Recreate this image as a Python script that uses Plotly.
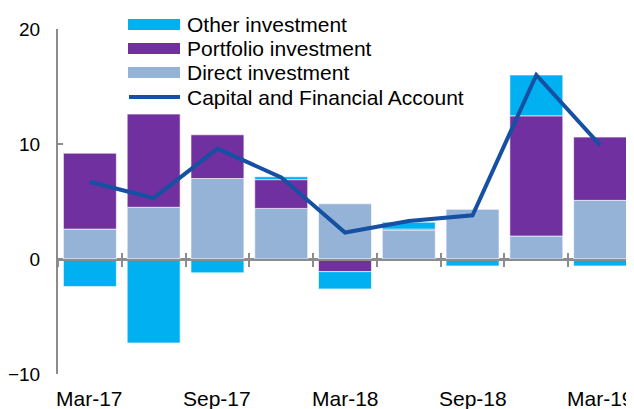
import plotly.graph_objects as go

quarters = ["Mar-17", "Jun-17", "Sep-17", "Dec-17", "Mar-18", "Jun-18", "Sep-18", "Dec-18", "Mar-19"]
tick_labels = ["Mar-17", "Sep-17", "Mar-18", "Sep-18", "Mar-19"]

direct = [2.6, 4.5, 7.0, 4.4, 4.8, 2.5, 4.35, 2.0, 5.1]
portfolio = [6.6, 8.1, 3.8, 2.5, -1.1, 0.1, 0.0, 10.45, 5.5]
other = [-2.4, -7.3, -1.2, 0.25, -1.5, 0.6, -0.6, 3.55, -0.6]
capital_account = [6.7, 5.3, 9.6, 7.1, 2.3, 3.3, 3.8, 16.0, 9.9]

C_OTHER = "#00B0F0"
C_PORT = "#7030A0"
C_DIRECT = "#95B3D7"
C_LINE = "#1550A3"
GREY = "#8C8C8C"
FONT = "Liberation Sans, Arial, sans-serif"

# the page body has an 8px margin, so the figure is drawn 8px smaller
PAD = 8
W, H = 634 - PAD, 409 - PAD
L, R, T, B = 58 - PAD, 2, 29 - PAD, 35

fig = go.Figure()
edge = dict(color="rgba(255,255,255,0.6)", width=1)
fig.add_trace(go.Bar(x=quarters, y=direct, name="Direct investment", marker=dict(color=C_DIRECT, line=edge)))
fig.add_trace(go.Bar(x=quarters, y=portfolio, name="Portfolio investment", marker=dict(color=C_PORT, line=edge)))
fig.add_trace(go.Bar(x=quarters, y=other, name="Other investment", marker=dict(color=C_OTHER, line=edge)))

# invisible trace on an overlay axis, used only for the upward half of the boundary ticks
fig.add_trace(go.Scatter(x=quarters, y=[0] * len(quarters), xaxis="x2", yaxis="y2", mode="markers",
                         marker=dict(opacity=0, size=1), hoverinfo="skip", showlegend=False))

fig.add_trace(go.Scatter(x=quarters, y=capital_account, name="Capital and Financial Account",
                         mode="lines", line=dict(color=C_LINE, width=4)))


def px_x(px):
    return (px - PAD - L) / (W - L - R)


def px_y(py):
    return (H - B - (py - PAD)) / (H - T - B)


# hand-drawn legend (wide swatches like the original)
legend_names = ["Other investment", "Portfolio investment", "Direct investment", "Capital and Financial Account"]
legend_colors = [C_OTHER, C_PORT, C_DIRECT, C_LINE]
row_y = [24.5, 48.5, 72.5, 97]
for i, (name, col) in enumerate(zip(legend_names, legend_colors)):
    yc = row_y[i]
    if i < 3:
        fig.add_shape(type="rect", xref="paper", yref="paper", x0=px_x(128), x1=px_x(180),
                      y0=px_y(yc - 5.5), y1=px_y(yc + 5.5), fillcolor=col, line_width=0, layer="above")
    else:
        fig.add_shape(type="line", xref="paper", yref="paper", x0=px_x(129), x1=px_x(180),
                      y0=px_y(yc), y1=px_y(yc), line=dict(color=col, width=4), layer="above")
    fig.add_annotation(text=name, xref="paper", yref="paper", x=px_x(185), y=px_y(yc),
                       xanchor="left", yanchor="middle", showarrow=False,
                       font=dict(family=FONT, size=21, color="#000000"))

# category labels sit at the bottom of the plot while the axis line sits at zero
for lab in tick_labels:
    fig.add_annotation(text=lab, x=lab, xref="x", y=0, yref="paper", yanchor="top", yshift=-11,
                       showarrow=False, font=dict(family=FONT, size=21, color="#000000"))

zero_pos = (0 - (-10)) / (20 - (-10))

x_common = dict(type="category", automargin=False, tickson="boundaries", ticklen=6, tickwidth=2,
                tickcolor=GREY, showticklabels=False, showgrid=False, zeroline=False,
                range=[-0.5, 8.5])

fig.update_layout(
    width=W, height=H,
    margin=dict(l=L, r=R, t=T, b=B, autoexpand=False),
    barmode="relative",
    bargap=0.17,
    showlegend=False,
    plot_bgcolor="rgba(0,0,0,0)",
    paper_bgcolor="white",
    font=dict(family=FONT, size=20, color="#000000"),
    # x axes hang off a helper y axis whose domain starts at the zero level
    xaxis=dict(x_common, anchor="y2", showline=True, linecolor=GREY, linewidth=2, ticks="outside"),
    xaxis2=dict(x_common, anchor="y2", overlaying="x", showline=False, ticks="inside"),
    yaxis=dict(range=[-10, 20], tickvals=[-10, 0, 10, 20], showgrid=False, automargin=False,
               zeroline=True, zerolinecolor=GREY, zerolinewidth=2,
               showline=True, linecolor=GREY, linewidth=2, ticks="inside",
               ticklen=5, tickwidth=2, tickcolor=GREY, ticklabelstandoff=12,
               tickfont=dict(size=19)),
    yaxis2=dict(domain=[zero_pos, 1], anchor="x", range=[0, 1], showline=False, ticks="",
                showticklabels=False, showgrid=False, zeroline=False, automargin=False),
)

fig.write_html("out.html")
